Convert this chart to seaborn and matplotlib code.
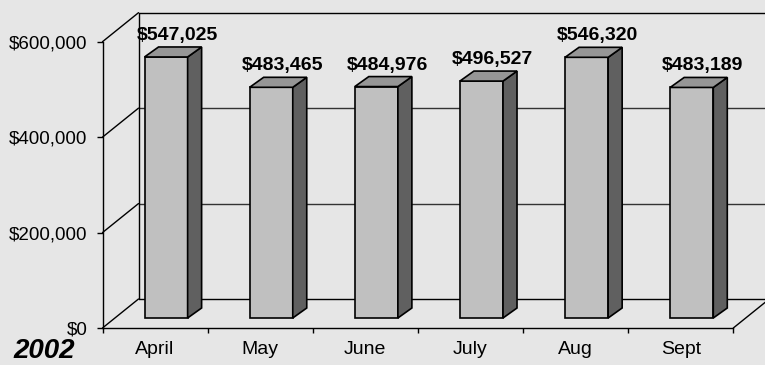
import matplotlib
matplotlib.use("Agg")
import matplotlib.pyplot as plt
import seaborn as sns
import pandas as pd
from matplotlib.patches import Polygon
from matplotlib.lines import Line2D

months = ["April", "May", "June", "July", "Aug", "Sept"]
revenue = [547025, 483465, 484976, 496527, 546320, 483189]
yticks = [0, 200000, 400000, 600000]
ytick_labels = ["$0", "$200,000", "$400,000", "$600,000"]
year_label = "2002"

sns.set_style("white")
plt.rcParams["font.family"] = ["Liberation Sans", "DejaVu Sans"]

BG = "#E6E6E6"
FRONT = "#C0C0C0"
TOP = "#969696"
SIDE = "#606060"

W, H = 765, 365
fig = plt.figure(figsize=(W / 100, H / 100), dpi=100, facecolor=BG)
# front plane of the 3-D box (pixels)
L, R, B, T = 102.5, 733.3, 328.0, 41.7
ax = fig.add_axes([L / W, (H - B) / H, (R - L) / W, (B - T) / H])
ax.set_facecolor("none")
ax.set_xlim(-0.5, len(months) - 0.5)
ax.set_ylim(0, 600000)

# pixel -> data conversion
kx = (len(months)) / (R - L)
ky = 600000 / (B - T)

def px(dx, dy):
    return dx * kx, dy * ky

bdx, bdy = px(36, 29)      # depth of the box
odx, ody = px(11, 10)      # bar front face offset into box
ddx, ddy = px(14, 10)      # bar depth

df = pd.DataFrame({"month": months, "revenue": revenue})
sns.barplot(data=df, x="month", y="revenue", ax=ax, width=0.41,
            color=FRONT, edgecolor="black", linewidth=1.2, saturation=1,
            zorder=5)

x0e, x1e = -0.5, len(months) - 0.5
line_kw = dict(color="black", lw=1.0, clip_on=False, zorder=1)
# back wall lines & diagonals
for v in yticks:
    ax.add_line(Line2D([x0e, x0e + bdx], [v, v + bdy], **line_kw))
    col = "#333333" if v not in (0, 600000) else "black"
    ax.add_line(Line2D([x0e + bdx, x1e + bdx + 1], [v + bdy, v + bdy],
                       color=col, lw=1.0, clip_on=False, zorder=1))
ax.add_line(Line2D([x0e + bdx, x0e + bdx], [bdy, 600000 + bdy], **line_kw))
ax.add_line(Line2D([x1e, x1e + bdx], [0, bdy], **line_kw))

# 3-D faces for each bar
for p, v in zip(ax.patches, revenue):
    x0 = p.get_x() + odx
    w = p.get_width()
    h = p.get_height()
    p.set_x(x0)
    p.set_y(ody)
    x1 = x0 + w
    yb, yt = ody, ody + h
    side = Polygon([(x1, yb), (x1 + ddx, yb + ddy), (x1 + ddx, yt + ddy), (x1, yt)],
                   closed=True, facecolor=SIDE, edgecolor="black", lw=1.2,
                   zorder=5, clip_on=False)
    top = Polygon([(x0, yt), (x1, yt), (x1 + ddx, yt + ddy), (x0 + ddx, yt + ddy)],
                  closed=True, facecolor=TOP, edgecolor="black", lw=1.2,
                  zorder=5, clip_on=False)
    ax.add_patch(side)
    ax.add_patch(top)
    p.set_clip_on(False)
    ax.text((x0 + x1) / 2 + 0.8 * ddx, yt + ddy + 7 * ky, f"${v:,.0f}",
            ha="center", va="baseline", fontsize=14, fontweight="bold",
            color="black", zorder=6, clip_on=False)

# axes styling
for s in ["top", "right"]:
    ax.spines[s].set_visible(False)
for s in ["left", "bottom"]:
    ax.spines[s].set_visible(True)
    ax.spines[s].set_color("black")
    ax.spines[s].set_linewidth(1.0)
    ax.spines[s].set_zorder(2)

ax.set_yticks(yticks)
ax.set_yticklabels(ytick_labels)
ax.tick_params(axis="y", direction="out", length=4, width=1, pad=7,
               labelsize=13.5, colors="black", left=True)
ax.set_xticks(range(len(months)))
ax.set_xticklabels(months)
ax.set_xticks([i - 0.5 for i in range(len(months) + 1)], minor=True)
ax.tick_params(axis="x", which="major", length=0, pad=9, labelsize=14,
               colors="black")
ax.tick_params(axis="x", which="minor", direction="out", length=3.5, width=1,
               bottom=True, colors="black")
ax.set_xlabel("")
ax.set_ylabel("")

fig.text(13 / W, 6.5 / H, year_label, fontsize=20, fontweight="bold",
         fontstyle="italic", ha="left", va="baseline", color="black")

fig.savefig("out.png", dpi=100, facecolor=BG)
